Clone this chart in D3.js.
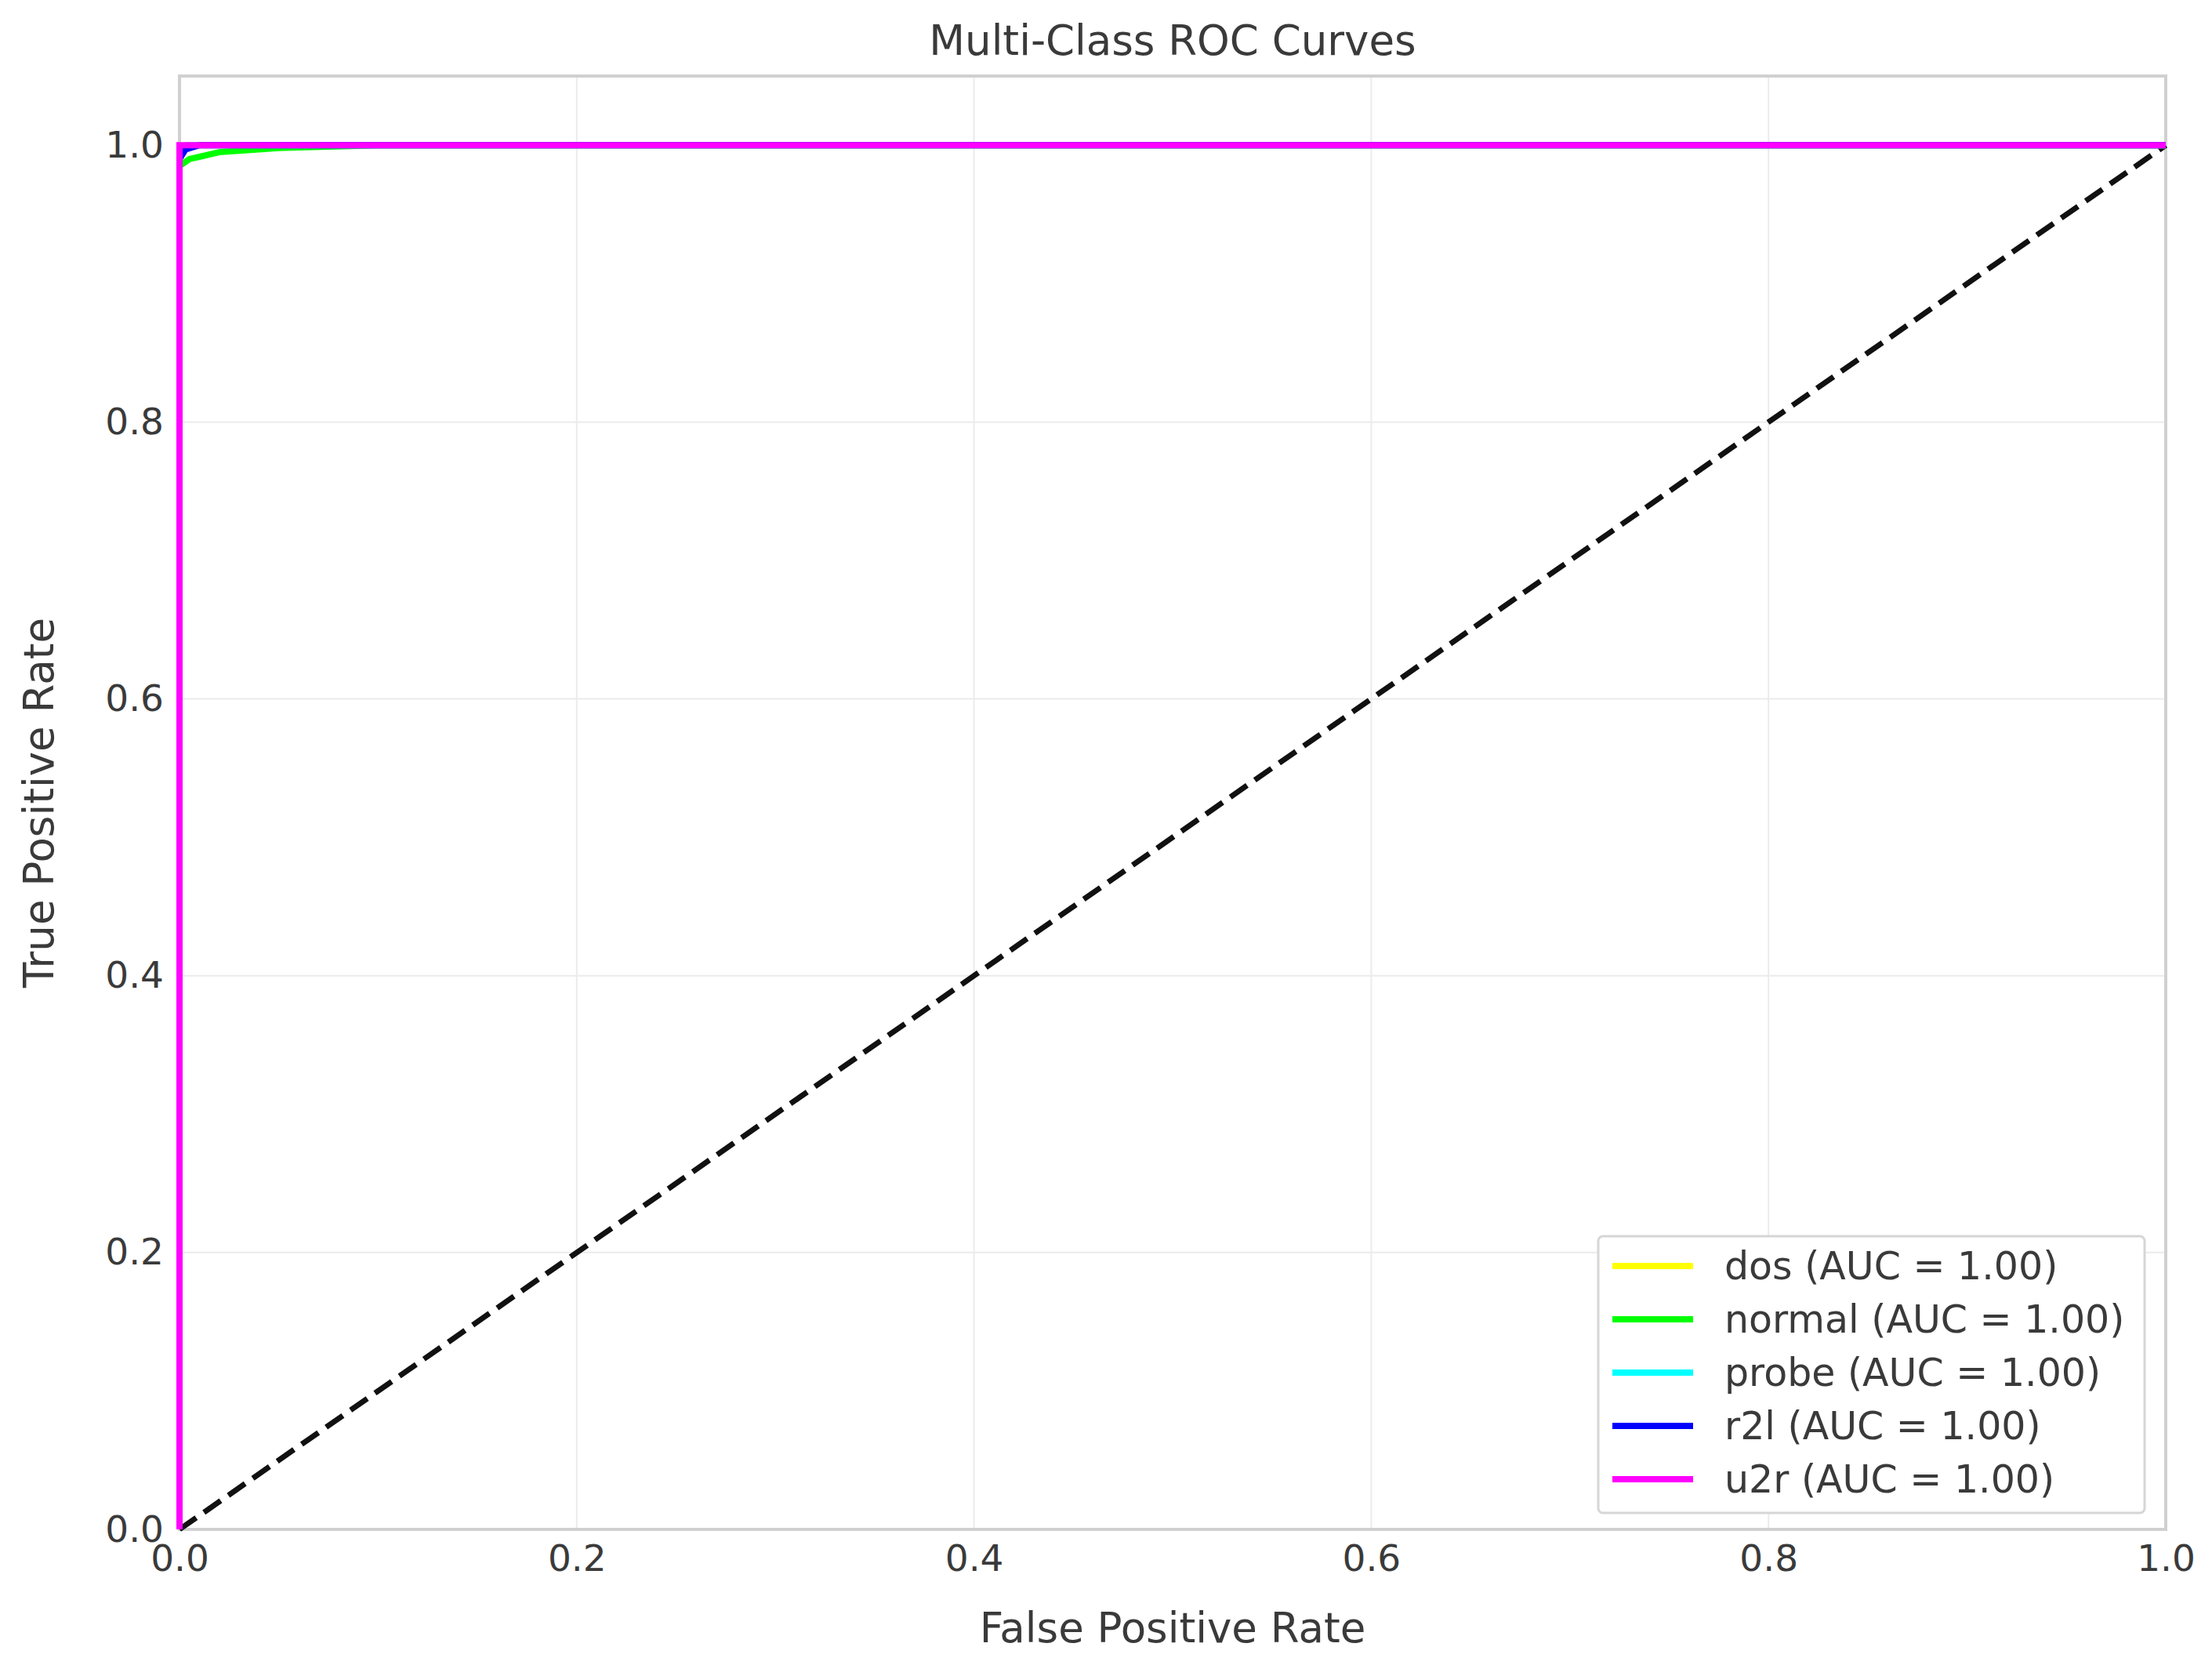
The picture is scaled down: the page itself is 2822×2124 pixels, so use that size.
<!DOCTYPE html>
<html><head><meta charset="utf-8">
<script src="https://cdn.jsdelivr.net/npm/d3@7"></script>
<style>body{margin:0;background:#fff}text{font-family:"DejaVu Sans",sans-serif;fill:#3a3a3a}</style>
</head><body><svg id="chart" width="2822" height="2124"></svg>
<script>
const classes = ["dos", "normal", "probe", "r2l", "u2r"];
const colors = ["#ffff00", "#00ff00", "#00ffff", "#0000ff", "#ff00ff"];
const aucs = [1.00, 1.00, 1.00, 1.00, 1.00];
// ROC points [fpr, tpr]
const dosRoc = [[0, 0], [0, 0.995], [0.003, 1], [1, 1]];
const normalRoc = [[0, 0], [0, 0.985], [0.005, 0.99], [0.02, 0.995], [0.05, 0.998], [0.1, 1], [1, 1]];
const probeRoc = [[0, 0], [0, 0.995], [0.004, 1], [1, 1]];
const r2lRoc = [[0, 0], [0, 0.99], [0.003, 0.997], [0.01, 1], [1, 1]];
const u2rRoc = [[0, 0], [0, 1], [1, 1]];
const rocs = [dosRoc, normalRoc, probeRoc, r2lRoc, u2rRoc];
const ticks = [0, 0.2, 0.4, 0.6, 0.8, 1.0];

const svg = d3.select("#chart");
const m = {left: 229, right: 2763, top: 97, bottom: 1951};
const x = d3.scaleLinear().domain([0, 1]).range([m.left, m.right]);
const y = d3.scaleLinear().domain([0, 1.05]).range([m.bottom, m.top]);

// grid
svg.append("g").selectAll("line").data(ticks).enter().append("line")
  .attr("x1", d => x(d)).attr("x2", d => x(d)).attr("y1", m.top).attr("y2", m.bottom)
  .attr("stroke", "#ebebeb").attr("stroke-width", 2);
svg.append("g").selectAll("line").data(ticks).enter().append("line")
  .attr("y1", d => y(d)).attr("y2", d => y(d)).attr("x1", m.left).attr("x2", m.right)
  .attr("stroke", "#ebebeb").attr("stroke-width", 2);

// axes (labels only)
const xa = svg.append("g").attr("transform", `translate(0,${m.bottom})`)
  .call(d3.axisBottom(x).tickValues(ticks).tickFormat(d3.format(".1f")).tickSize(0).tickPadding(20));
const ya = svg.append("g").attr("transform", `translate(${m.left},0)`)
  .call(d3.axisLeft(y).tickValues(ticks).tickFormat(d3.format(".1f")).tickSize(0).tickPadding(20));
[xa, ya].forEach(a => { a.select(".domain").remove(); a.selectAll("text").attr("font-size", 47).style("fill", "#3a3a3a").attr("font-family", "DejaVu Sans"); });

svg.append("rect").attr("x", m.left).attr("y", m.top).attr("width", m.right - m.left).attr("height", m.bottom - m.top)
  .attr("fill", "none").attr("stroke", "#d0d0d0").attr("stroke-width", 4);

// diagonal
svg.append("line").attr("x1", x(0)).attr("y1", y(0)).attr("x2", x(1)).attr("y2", y(1))
  .attr("stroke", "#111").attr("stroke-width", 7).attr("stroke-dasharray", "26,12");

const line = d3.line().x(d => x(d[0])).y(d => y(d[1]));
svg.append("g").selectAll("path").data(rocs).enter().append("path")
  .attr("d", line).attr("fill", "none").attr("stroke", (d, i) => colors[i]).attr("stroke-width", 8);

// titles
svg.append("text").attr("x", (m.left + m.right) / 2).attr("y", 70).attr("text-anchor", "middle")
  .attr("font-size", 53).text("Multi-Class ROC Curves");
svg.append("text").attr("x", (m.left + m.right) / 2).attr("y", 2095).attr("text-anchor", "middle")
  .attr("font-size", 53).text("False Positive Rate");
svg.append("text").attr("transform", `translate(68,${(m.top + m.bottom) / 2}) rotate(-90)`).attr("text-anchor", "middle")
  .attr("font-size", 53).text("True Positive Rate");

// legend
const lg = svg.append("g");
lg.append("rect").attr("x", 2039).attr("y", 1577).attr("width", 697).attr("height", 353).attr("rx", 6)
  .attr("fill", "#fff").attr("stroke", "#d6d6d6").attr("stroke-width", 3);
const items = lg.selectAll("g").data(classes).enter().append("g")
  .attr("transform", (d, i) => `translate(0,${1615 + i * 68})`);
items.append("line").attr("x1", 2057).attr("x2", 2160).attr("stroke", (d, i) => colors[i]).attr("stroke-width", 8);
items.append("text").attr("x", 2200).attr("dy", "0.35em").attr("font-size", 49)
  .text((d, i) => `${d} (AUC = ${aucs[i].toFixed(2)})`);
</script></body></html>
